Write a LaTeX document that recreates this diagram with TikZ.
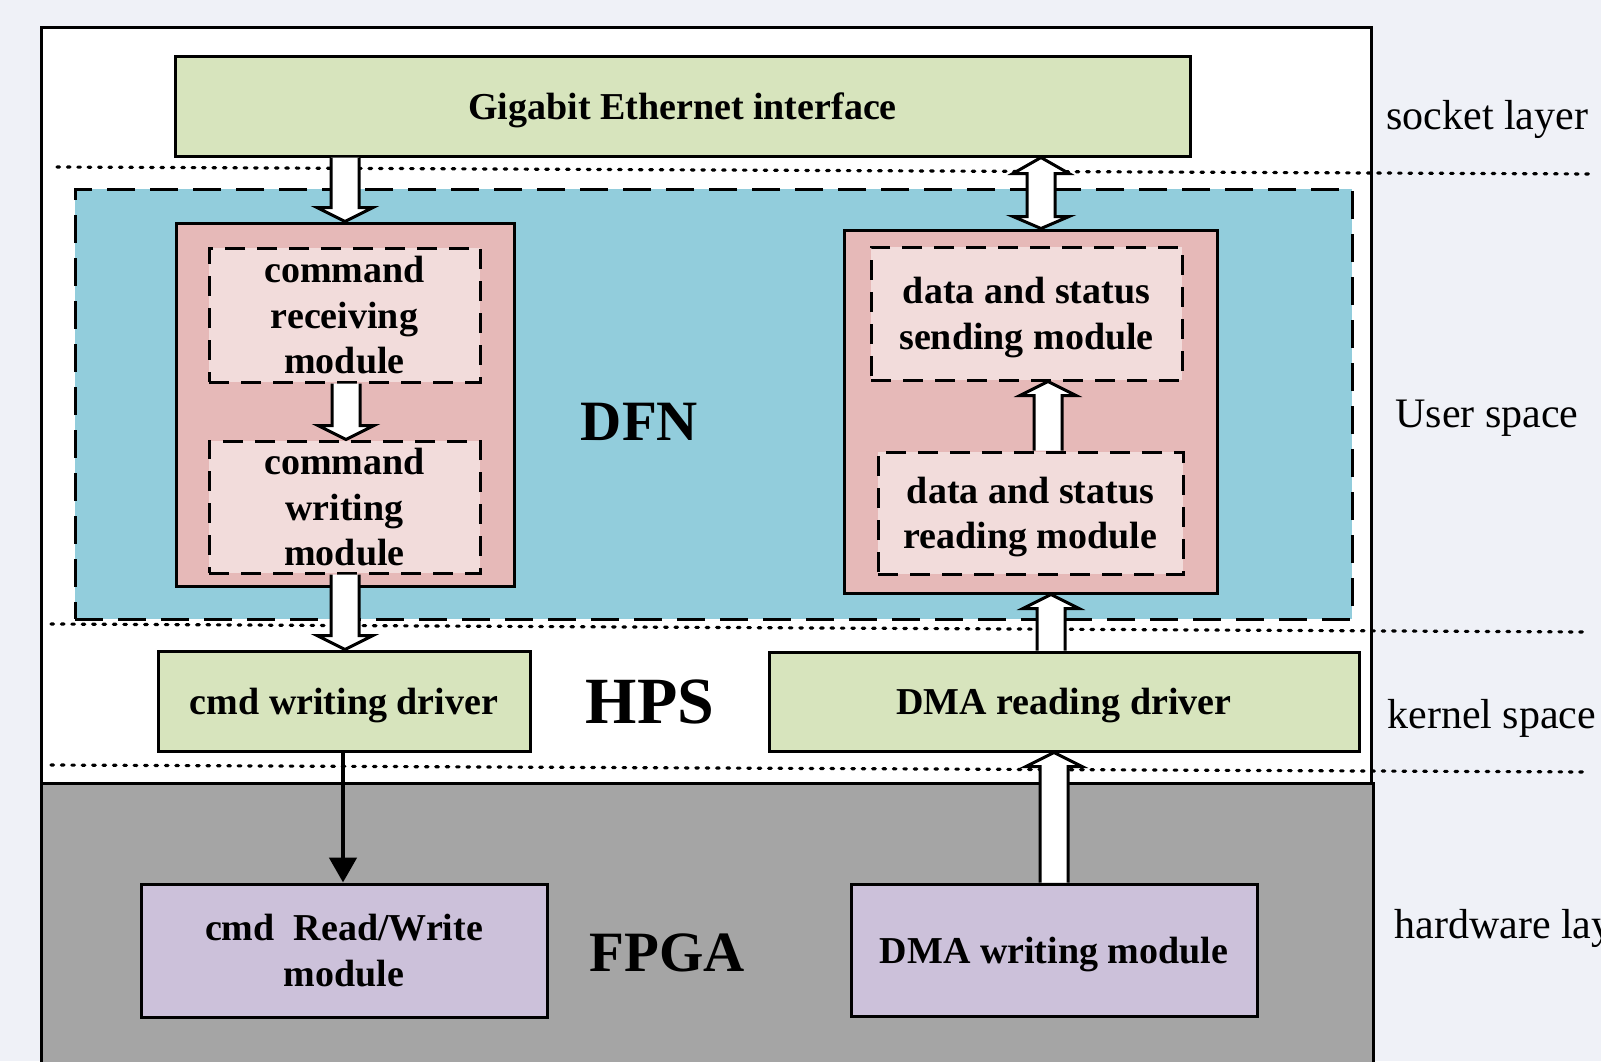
\documentclass[tikz,border=0pt]{standalone}
\usepackage{fontspec}
\setmainfont{Liberation Serif}
\usetikzlibrary{calc,arrows.meta}
\definecolor{bg}{HTML}{EFF1F7}
\definecolor{gr}{HTML}{D7E4BD}
\definecolor{bl}{HTML}{92CDDC}
\definecolor{rd}{HTML}{E6B9B8}
\definecolor{pk}{HTML}{F2DCDB}
\definecolor{gy}{HTML}{A5A5A5}
\definecolor{pu}{HTML}{CCC1DA}
\tikzset{
  box/.style={draw, line width=1.5pt, inner sep=0pt, align=center, text depth=0pt,
    font=\fontsize{19}{22.75}\selectfont\bfseries},
  greenbox/.style={box, fill=gr},
  redbox/.style={box, fill=rd},
  purplebox/.style={box, fill=pu},
  innerbox/.style={box, fill=pk, dash pattern=on 10pt off 6pt},
  region/.style={draw, fill=bl, line width=1.5pt, dash pattern=on 14pt off 7.5pt},
  dotline/.style={line width=1.6pt, line cap=round, dash pattern=on 1.3pt off 3.9pt},
  blk/.style={draw, fill=white, line width=1.5pt, line join=miter},
  bigtitle/.style={font=\bfseries, anchor=base, inner sep=0pt},
  sidelabel/.style={font=\fontsize{21}{24}\selectfont, anchor=base west, inner sep=0pt},
  solidarrow/.style={line width=2.4pt, -{Triangle[length=12.5pt,width=13.5pt]}}
}
\newcommand\blkdown[2]{%
  \draw[blk] let \p1=(#1), \p2=(#2) in
    (\x2-7pt,\y1) -- (\x2-7pt,\y2+7pt) -- (\x2-14pt,\y2+7pt) -- (\x2,\y2)
    -- (\x2+14pt,\y2+7pt) -- (\x2+7pt,\y2+7pt) -- (\x2+7pt,\y1);}
\newcommand\blkup[2]{%
  \draw[blk] let \p1=(#1), \p2=(#2) in
    (\x2-7pt,\y1) -- (\x2-7pt,\y2-7pt) -- (\x2-14pt,\y2-7pt) -- (\x2,\y2)
    -- (\x2+14pt,\y2-7pt) -- (\x2+7pt,\y2-7pt) -- (\x2+7pt,\y1);}
\newcommand\blkboth[2]{%
  \draw[blk] let \p1=(#1), \p2=(#2) in
    (\x1,\y1) -- (\x1+14pt,\y1-8pt) -- (\x1+7pt,\y1-8pt) -- (\x1+7pt,\y2+6pt)
    -- (\x1+14pt,\y2+6pt) -- (\x1,\y2) -- (\x1-14pt,\y2+6pt) -- (\x1-7pt,\y2+6pt)
    -- (\x1-7pt,\y1-8pt) -- (\x1-14pt,\y1-8pt) -- cycle;}
\begin{document}
\begin{tikzpicture}[x=0.5pt,y=-0.5pt]
\useasboundingbox (0,0) rectangle (1601,1061);
\fill[bg] (0,0) rectangle (1601,1061);
% layers
\draw[fill=white, line width=1.5pt] (41,1080) -- (41,27) -- (1371,27) -- (1371,783);
\draw[fill=gy, line width=1.5pt] (41,1080) -- (41,783) -- (1373,783) -- (1373,1080);
% dotted separators
\draw[dotline] (57,167) -- (1592,174);
\draw[dotline] (51,624) -- (1590,632);
\draw[dotline] (51,765) -- (1590,772);
% side labels
\node[sidelabel] (lsock) at (1386,129) {socket layer};
\node[sidelabel] (luser) at (1395,427) {User space};
\node[sidelabel] (lkern) at (1387,728) {kernel space};
\node[sidelabel] (lhard) at (1394,938) {hardware layer};
% DFN region
\node[region, minimum width=638.5pt, minimum height=215pt] (dfnreg) at (713.5,404) {};
\node[bigtitle, font=\fontsize{28.5}{30}\selectfont\bfseries] (dfn) at (639.5,440) {DFN};
\node[bigtitle, font=\fontsize{33}{35}\selectfont\bfseries] (hps) at (650,723) {HPS};
\node[bigtitle, font=\fontsize{28.5}{30}\selectfont\bfseries] (fpga) at (667,971) {FPGA};
% boxes
\node[greenbox, minimum width=507.5pt, minimum height=50pt] (gig) at (682.5,106) {Gigabit Ethernet interface};
\node[redbox, minimum width=169pt, minimum height=181.5pt] (lred) at (345,404.5) {};
\node[innerbox, minimum width=135.5pt, minimum height=67pt] (cmdrecv) at (344.5,315) {command\\receiving\\module};
\node[innerbox, minimum width=135.5pt, minimum height=66pt] (cmdwrite) at (344.5,507) {command\\writing\\module};
\node[redbox, minimum width=186.5pt, minimum height=181.5pt] (rred) at (1030.5,411.5) {};
\node[innerbox, minimum width=155.5pt, minimum height=66.5pt] (dsend) at (1026.5,313.5) {data and status\\sending module};
\node[innerbox, minimum width=152.5pt, minimum height=61pt] (dread) at (1030.5,513) {data and status\\reading module};
\node[greenbox, minimum width=186pt, minimum height=50pt] (cmddrv) at (344,701) {cmd writing driver};
\node[greenbox, minimum width=295pt, minimum height=49.5pt] (dmadrv) at (1064,701.5) {DMA reading driver};
\node[purplebox, minimum width=203pt, minimum height=66.5pt] (cmdrw) at (344,950.5) {cmd~~Read/Write\\module};
\node[purplebox, minimum width=203pt, minimum height=66pt] (dmaw) at (1054,950) {DMA writing module};
% arrow x positions
\coordinate (xa) at (345,0);
\coordinate (xb) at (346,0);
\coordinate (xc) at (345,0);
\coordinate (xd) at (1041,0);
\coordinate (xe) at (1048,0);
\coordinate (xf) at (1051,0);
\coordinate (xg) at (1054,0);
\coordinate (xh) at (343,0);
% arrows
\blkdown{xa |- gig.south}{xa |- lred.north}
\blkdown{xb |- cmdrecv.south}{xb |- cmdwrite.north}
\blkdown{xc |- cmdwrite.south}{xc |- cmddrv.north}
\blkboth{xd |- gig.south}{xd |- rred.north}
\blkup{xe |- dread.north}{xe |- dsend.south}
\blkup{xf |- dmadrv.north}{xf |- rred.south}
\blkup{xg |- dmaw.north}{xg |- dmadrv.south}
\draw[solidarrow] (xh |- cmddrv.south) -- (xh |- cmdrw.north);
\end{tikzpicture}
\end{document}
